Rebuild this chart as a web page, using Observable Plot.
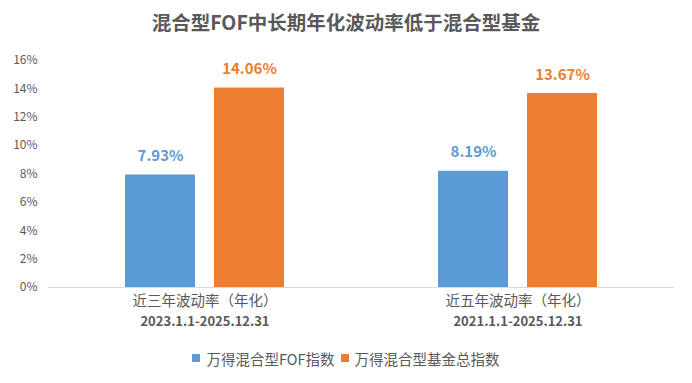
<!DOCTYPE html>
<html>
<head>
<meta charset="utf-8">
<script src="https://cdn.jsdelivr.net/npm/d3@7"></script>
<script src="https://cdn.jsdelivr.net/npm/@observablehq/plot@0.6"></script>
<style>
  html, body { margin: 0; padding: 0; background: #fff; }
  body { width: 692px; height: 383px; overflow: hidden; font-family: "Noto Sans CJK SC", "Noto Sans", sans-serif; }
  #title { height: 44px; line-height: 44px; text-align: center; font-size: 19.5px; font-weight: bold; color: #595959; }
  #legend { display: flex; justify-content: center; align-items: center; height: 38px; font-size: 14.5px; color: #595959; }
  .item { display: flex; align-items: center; margin: 0 3px; }
  .sw { width: 8px; height: 8px; margin-right: 6px; }
</style>
</head>
<body>
<div id="title"></div>
<div id="chart"></div>
<div id="legend"></div>
<script>
const titleText = "混合型FOF中长期年化波动率低于混合型基金";
const groups = ["近三年波动率（年化）", "近五年波动率（年化）"];
const periods = ["2023.1.1-2025.12.31", "2021.1.1-2025.12.31"];
const series = ["万得混合型FOF指数", "万得混合型基金总指数"];
const fofValues = [7.93, 8.19];
const mixedValues = [14.06, 13.67];
const colors = ["#5b9bd5", "#ed7d31"];
const yTicks = [0, 2, 4, 6, 8, 10, 12, 14, 16];

const rows = [];
groups.forEach((g, i) => {
  rows.push({group: g, series: series[0], value: fofValues[i]});
  rows.push({group: g, series: series[1], value: mixedValues[i]});
});
const groupRows = groups.map((g, i) => ({group: g, period: periods[i]}));

document.getElementById("title").textContent = titleText;

const chart = Plot.plot({
  width: 692,
  height: 295,
  marginLeft: 48,
  marginRight: 18,
  marginTop: 16,
  marginBottom: 52,
  style: {fontFamily: "'Noto Sans CJK SC', 'Noto Sans', sans-serif", color: "#595959", background: "#fff"},
  fx: {domain: groups, padding: 0, axis: null},
  x: {domain: series, paddingInner: 0.2135, paddingOuter: 0.865, axis: null},
  y: {domain: [0, 16], label: null},
  color: {domain: series, range: colors},
  marks: [
    Plot.axisY({ticks: yTicks, tickFormat: d => d + "%", tickSize: 0, tickPadding: 11, fontSize: 12, fill: "#595959", label: null}),
    Plot.barY(rows, {fx: "group", x: "series", y: "value", fill: "series"}),
    Plot.ruleY([0], {stroke: "#d9d9d9", strokeWidth: 1}),
    Plot.text(rows, {fx: "group", x: "series", y: "value", text: d => d.value.toFixed(2) + "%", fill: "series", lineAnchor: "bottom", dy: -14, fontSize: 15, fontWeight: "bold"}),
    Plot.text(groupRows, {fx: "group", text: "group", frameAnchor: "bottom", dy: 18, fontSize: 14.5, fill: "#595959"}),
    Plot.text(groupRows, {fx: "group", text: "period", frameAnchor: "bottom", dy: 38, fontSize: 13, fontWeight: "bold", fill: "#595959"})
  ]
});
document.getElementById("chart").appendChild(chart);

const legend = document.getElementById("legend");
series.forEach((s, i) => {
  const item = document.createElement("div");
  item.className = "item";
  const sw = document.createElement("span");
  sw.className = "sw";
  sw.style.background = colors[i];
  const t = document.createElement("span");
  t.textContent = s;
  item.appendChild(sw);
  item.appendChild(t);
  legend.appendChild(item);
});
</script>
</body>
</html>
